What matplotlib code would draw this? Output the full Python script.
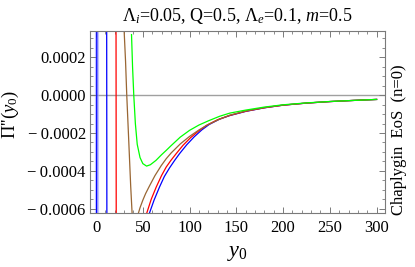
import numpy as np
import matplotlib
matplotlib.use("Agg")
import matplotlib.pyplot as plt
from matplotlib.ticker import MultipleLocator

plt.rcParams['font.family'] = ['Liberation Serif', 'DejaVu Serif']
plt.rcParams['mathtext.fontset'] = 'custom'
plt.rcParams['mathtext.rm'] = 'Liberation Serif'
plt.rcParams['mathtext.it'] = 'Liberation Serif:italic'

NAN = np.nan
SCALE = 1e-4  # values below are in units of 1e-4

# blue curve (poles near 0.7 and 11.4, comes back from below after ~57)
blue_x = [0.5, 0.9, NAN, 11.2, 11.6, NAN, 57.1, 62, 67.8, 73, 78.5, 84, 89.3, 97, 105, 113, 121, 132, 143, 160, 180, 200, 225, 250, 275, 300]
blue_y = [-10, 10, NAN, 10, -10, NAN, -6.23, -5.55, -4.86, -4.3, -3.85, -3.45, -3.09, -2.62, -2.2, -1.84, -1.55, -1.27, -1.08, -0.86, -0.67, -0.53, -0.42, -0.34, -0.28, -0.227]

# red curve
red_x = [21.2, 21.6, NAN, 54.2, 59, 64.3, 70, 75, 80, 85.7, 93, 101, 110, 118, 130, 143, 160, 180, 200, 225, 250, 275, 300]
red_y = [10, -10, NAN, -6.23, -5.5, -4.86, -4.25, -3.8, -3.45, -3.09, -2.65, -2.25, -1.88, -1.6, -1.3, -1.07, -0.85, -0.665, -0.53, -0.42, -0.34, -0.28, -0.227]

# brown curve
brown_x = [29.8, 31.5, 32.8, 35, 37, 38.5, 40, 42, 44, 45.3, 47, 50, 53, 57.1, 63, 69.6, 75, 80.4, 90, 100, 110, 120, 132, 143, 160, 180, 200, 225, 250, 275, 300]
brown_y = [3.6, 1.8, 0.0, -2.5, -4.8, -6.23, -6.5, -6.6, -6.45, -6.23, -5.95, -5.55, -5.2, -4.8, -4.25, -3.73, -3.36, -3.05, -2.58, -2.18, -1.84, -1.55, -1.27, -1.06, -0.84, -0.66, -0.525, -0.42, -0.34, -0.28, -0.227]

# green curve
green_x = [37.9, 39, 40.3, 42, 44, 47, 50, 54, 58, 64, 70, 75, 80, 90, 100, 110, 120, 132, 143, 160, 180, 200, 225, 250, 275, 300]
green_y = [3.2, 1.5, 0.0, -1.5, -2.6, -3.3, -3.62, -3.75, -3.68, -3.45, -3.15, -2.92, -2.68, -2.22, -1.86, -1.58, -1.36, -1.12, -0.95, -0.79, -0.63, -0.51, -0.41, -0.335, -0.28, -0.227]

series = [
    (blue_x, blue_y, (0, 0, 1)),
    (red_x, red_y, (1, 0, 0)),
    (brown_x, brown_y, (0.6, 0.4, 0.2)),
    (green_x, green_y, (0, 1, 0)),
]

yticks = [-0.0006, -0.0004, -0.0002, 0.0, 0.0002]
ytick_labels = ['\u2212\u20090.0006', '\u2212\u20090.0004', '\u2212\u20090.0002', '0.0000', '0.0002']
xticks = [0, 50, 100, 150, 200, 250, 300]

fig = plt.figure(figsize=(4.15, 2.67), dpi=100)
ax = fig.add_axes([0.2169, 0.2022, 0.7108, 0.6817])

ax.axhline(0, color='#a0a0a0', lw=1.0, zorder=1)
# soft band next to the pole at the origin
ax.axvline(0.7, color=(0.6, 0.6, 1.0), lw=3.0, alpha=0.6, zorder=1)

for xs, ys, c in series:
    ax.plot(xs, np.array(ys) * SCALE, color=c, lw=0.9, zorder=2)

ax.set_xlim(-6.5, 309)
ax.set_ylim(-0.000623, 0.000339)

ax.set_xticks(xticks)
ax.set_xticklabels([str(v) for v in xticks])
ax.set_yticks(yticks)
ax.set_yticklabels(ytick_labels)
ax.xaxis.set_minor_locator(MultipleLocator(10))
ax.yaxis.set_minor_locator(MultipleLocator(0.00005))

frame_col = '#7a7a7a'
for s in ax.spines.values():
    s.set_color(frame_col)
    s.set_linewidth(0.8)
ax.tick_params(which='both', direction='in', top=True, right=True, color=frame_col, labelsize=12)
ax.tick_params(axis='x', pad=5)
ax.tick_params(axis='y', pad=3)
ax.tick_params(which='major', length=4, width=0.7)
ax.tick_params(which='minor', length=2, width=0.6)

ax.set_title(r'$\Lambda_{i}$=0.05, Q=0.5, $\Lambda_{e}$=0.1, $m$=0.5', fontsize=13, pad=7)
ax.set_xlabel(r'$y_0$', fontsize=16, labelpad=6)
fig.text(0.025, 0.57, r"$\Pi$''($y_0$)", rotation=90, ha='center', va='center', fontsize=13.5)

fig.text(0.962, 0.475, 'Chaplygin  EoS  (n=0)', rotation=90, ha='center', va='center', fontsize=12)

fig.savefig('out.png', dpi=100)
